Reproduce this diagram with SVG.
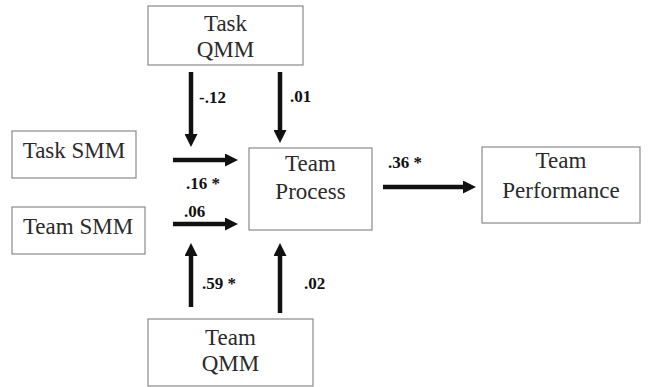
<svg xmlns="http://www.w3.org/2000/svg" width="648" height="387" viewBox="0 0 648 387">
<style>
.box{fill:#fff;stroke:#8a8a8a;stroke-width:1.2}
.ar{stroke:#111;stroke-width:4.5;fill:none;marker-end:url(#ah)}
</style>
<defs>
<marker id="ah" markerUnits="userSpaceOnUse" markerWidth="13" markerHeight="13" refX="2" refY="6.5" orient="auto" viewBox="0 0 13 13">
<path d="M0,0 L13,6.5 L0,13 z" fill="#111"/>
</marker>
</defs>
<rect width="648" height="387" fill="#fff"/>
<g id="task-qmm"><rect class="box" x="148" y="6" width="155" height="59"/><text font-family="Liberation Serif" font-size="23" fill="#2a2a2a" text-anchor="middle" x="225.5" y="31">Task</text><text font-family="Liberation Serif" font-size="23" fill="#2a2a2a" text-anchor="middle" x="225.5" y="57">QMM</text></g>
<g id="task-smm"><rect class="box" x="12" y="131" width="124" height="47"/><text font-family="Liberation Serif" font-size="23" fill="#2a2a2a" text-anchor="middle" x="74" y="158">Task SMM</text></g>
<g id="team-smm"><rect class="box" x="12" y="207" width="133" height="47"/><text font-family="Liberation Serif" font-size="23" fill="#2a2a2a" text-anchor="middle" x="78" y="234">Team SMM</text></g>
<g id="team-process"><rect class="box" x="249" y="148" width="123" height="82"/><text font-family="Liberation Serif" font-size="23" fill="#2a2a2a" text-anchor="middle" x="310.5" y="171">Team</text><text font-family="Liberation Serif" font-size="23" fill="#2a2a2a" text-anchor="middle" x="310.5" y="199">Process</text></g>
<g id="team-performance"><rect class="box" x="482" y="147" width="158" height="76"/><text font-family="Liberation Serif" font-size="23" fill="#2a2a2a" text-anchor="middle" x="561" y="168">Team</text><text font-family="Liberation Serif" font-size="23" fill="#2a2a2a" text-anchor="middle" x="561" y="198">Performance</text></g>
<g id="team-qmm"><rect class="box" x="148" y="319" width="165" height="67"/><text font-family="Liberation Serif" font-size="23" fill="#2a2a2a" text-anchor="middle" x="230.5" y="345">Team</text><text font-family="Liberation Serif" font-size="23" fill="#2a2a2a" text-anchor="middle" x="230.5" y="371">QMM</text></g>
<g id="connectors">
<line class="ar" x1="191" y1="72" x2="191" y2="136"/>
<line class="ar" x1="280" y1="72" x2="280" y2="132"/>
<line class="ar" x1="173" y1="160" x2="227" y2="160"/>
<line class="ar" x1="173" y1="224" x2="227" y2="224"/>
<line class="ar" x1="191" y1="307" x2="191" y2="254"/>
<line class="ar" x1="280" y1="313" x2="280" y2="254"/>
<line class="ar" x1="383" y1="187" x2="465" y2="187"/>
<text font-family="Liberation Serif" font-size="17" font-weight="bold" fill="#111" x="199" y="103">-.12</text>
<text font-family="Liberation Serif" font-size="17" font-weight="bold" fill="#111" x="290" y="102">.01</text>
<text font-family="Liberation Serif" font-size="17" font-weight="bold" fill="#111" x="186" y="189">.16 *</text>
<text font-family="Liberation Serif" font-size="17" font-weight="bold" fill="#111" x="184" y="217">.06</text>
<text font-family="Liberation Serif" font-size="17" font-weight="bold" fill="#111" x="202" y="289">.59 *</text>
<text font-family="Liberation Serif" font-size="17" font-weight="bold" fill="#111" x="304" y="289">.02</text>
<text font-family="Liberation Serif" font-size="17" font-weight="bold" fill="#111" x="388" y="168">.36 *</text>
</g>
</svg>
